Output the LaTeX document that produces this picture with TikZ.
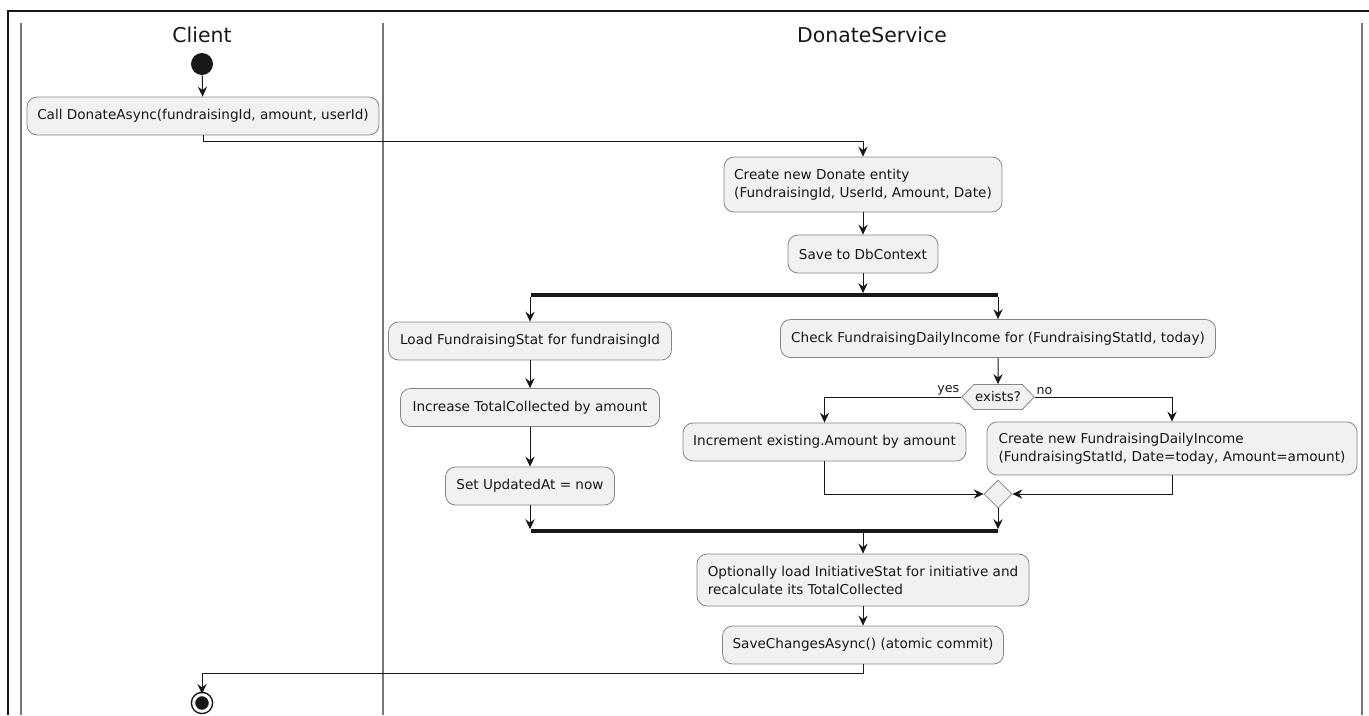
\documentclass[tikz,border=0pt]{standalone}
\usepackage{fontspec}
\setmainfont{DejaVu Sans}
\usetikzlibrary{shapes.geometric, shapes.symbols, arrows.meta, positioning, calc}
\definecolor{actfill}{HTML}{F1F1F1}
\definecolor{actline}{HTML}{858585}
\definecolor{ink}{HTML}{181818}
\definecolor{lanegray}{HTML}{777777}
\tikzset{
  >={Stealth[length=7.5pt, width=7pt, inset=2.6pt]},
  wire/.style={draw=ink, line width=0.75pt},
  action/.style={% rounded activity box
    rectangle, rounded corners=7.5pt, draw=actline, fill=actfill,
    line width=0.6pt, minimum height=28.5pt, inner sep=0pt, text=ink,
    font=\fontsize{10.2}{13.5}\selectfont},
  actionl/.style={action, align=left},
  bar/.style={rectangle, fill=ink, minimum height=2.4pt, inner sep=0pt},
  choice/.style={% hexagonal decision
    signal, signal to=east and west, signal pointer angle=92,
    draw=actline, fill=actfill, line width=0.6pt, inner sep=1pt,
    minimum height=18.75pt, text=ink, font=\fontsize{10}{11}\selectfont},
  mergept/.style={diamond, draw=actline, fill=actfill, line width=0.6pt,
    minimum size=21pt, inner sep=0pt},
  startpt/.style={circle, fill=ink, minimum size=16.5pt, inner sep=0pt},
  stoppt/.style={circle, fill=ink, draw=ink, line width=1.1pt,
    double=white, double distance=2.2pt, minimum size=12.5pt, inner sep=0pt},
  lane/.style={draw=lanegray, line width=1.6pt},
  title/.style={font=\fontsize{15.3}{18}\selectfont, text=ink},
  guard/.style={font=\fontsize{9.5}{10}\selectfont, text=ink, inner sep=1pt},
}

\begin{document}
\begin{tikzpicture}[x=0.75pt, y=-0.75pt]
  \useasboundingbox (0,0) rectangle (1369,715);

  % ----- frame and swimlanes ------------------------------------------------
  \draw[ink, line width=1.5pt] (8,715) -- (8,11) -- (1369,11);
  \draw[lane] (21,23) -- (21,715);
  \draw[lane] (383,23) -- (383,715);
  \draw[lane] (1362,23) -- (1362,715);
  \node[title] (tclient) at (202,35) {Client};
  \node[title] (tservice) at (872,35) {DonateService};

  % ----- client lane ----------------------------------------------------------
  \node[startpt] (start) at (202,64) {};
  \node[action, minimum width=264pt] (call) at (203,116)
    {Call DonateAsync(fundraisingId, amount, userId)};
  \node[stoppt] (stop) at (202,703) {};

  % ----- service lane: main line ---------------------------------------------
  \node[actionl, minimum width=208.5pt, minimum height=41.25pt] (create) at (863,184.5)
    {Create new Donate entity\\(FundraisingId, UserId, Amount, Date)};
  \node[action, minimum width=112.5pt] (save) at (863,254) {Save to DbContext};
  \node[bar, minimum width=350.25pt] (fork) at (764,295) {};   % fork bar
  \node[bar, minimum width=350.25pt] (join) at (764,531) {};   % join bar
  \node[actionl, minimum width=249pt, minimum height=39pt] (initst) at (863,580)
    {Optionally load InitiativeStat for initiative and\\recalculate its TotalCollected};
  \node[action, minimum width=210.75pt] (commit) at (863,645)
    {SaveChangesAsync() (atomic commit)};

  % ----- left branch: stats ---------------------------------------------------
  \node[action, minimum width=212.25pt] (load) at (530,341)
    {Load FundraisingStat for fundraisingId};
  \node[action, minimum width=194.25pt] (incr) at (530,407.5)
    {Increase TotalCollected by amount};
  \node[action, minimum width=126.75pt] (upd) at (530,486) {Set UpdatedAt = now};

  % ----- right branch: daily income ------------------------------------------
  \node[action, minimum width=326.25pt] (check) at (998,338.5)
    {Check FundraisingDailyIncome for (FundraisingStatId, today)};
  \node[choice] (exists) at (998,397) {exists?};
  \node[action, minimum width=212.25pt] (incex) at (824.5,442)
    {Increment existing.Amount by amount};
  \node[actionl, minimum width=277.5pt, minimum height=39.75pt] (newdi) at (1172,448.5)
    {Create new FundraisingDailyIncome\\(FundraisingStatId, Date=today, Amount=amount)};
  \node[mergept] (merge) at (998,494) {};

  % ----- connectors -------------------------------------------------------------
  \draw[wire,->] (start) -- (call);
  \draw[wire,->] (call.south) -- ++(0,6) -| (create.north);
  \draw[wire,->] (create) -- (save);
  \draw[wire,->] (save.south) -- (save.south |- fork.north);
  \draw[wire,->] (fork.south -| load.north) -- (load.north);
  \draw[wire,->] (fork.south -| check.north) -- (check.north);
  \draw[wire,->] (load) -- (incr);
  \draw[wire,->] (incr) -- (upd);
  \draw[wire,->] (upd.south) -- (upd.south |- join.north);
  \draw[wire,->] (check) -- (exists);
  \draw[wire,->] (exists.west) node[guard, above left]{yes} -| (incex.north);
  \draw[wire,->] (exists.east) node[guard, above right]{no} -| (newdi.north);
  \draw[wire,->] (incex.south) |- (merge.west);
  \draw[wire,->] (newdi.south) |- (merge.east);
  \draw[wire,->] (merge.south) -- (merge.south |- join.north);
  \draw[wire,->] (join.south -| initst.north) -- (initst.north);
  \draw[wire,->] (initst) -- (commit);
  \draw[wire,->] (commit.south) -- ++(0,9) -| (stop.north);

\end{tikzpicture}
\end{document}
